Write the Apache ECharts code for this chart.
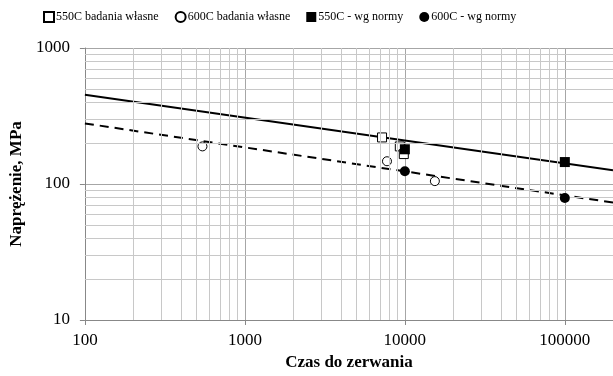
<!DOCTYPE html>
<html>
<head>
<meta charset="utf-8">
<script src="https://cdn.jsdelivr.net/npm/echarts@6/dist/echarts.min.js"></script>
<style>html,body{margin:0;padding:0;background:#fff}#c{width:613px;height:376px}</style>
</head>
<body>
<div id="c"></div>
<script>
// Data
const own550 = [[7200, 220], [9300, 189], [9850, 166]];
const own600 = [[543, 189], [7730, 147], [15400, 105]];
const norm550 = [[10000, 180], [100000, 145]];
const norm600 = [[10000, 124], [100000, 79]];
const trend550 = [[100, 454], [200000, 126]];
const trend600 = [[100, 279], [200000, 73]];
const xTicks = [100, 1000, 10000, 100000];
const yTicks = [10, 100, 1000];

const xMinor = [];
for (const d of [100, 1000, 10000]) for (let k = 2; k <= 9; k++) xMinor.push(d * k);
const yMinor = [];
for (const d of [10, 100]) for (let k = 2; k <= 9; k++) yMinor.push(d * k);

const FONT = '"Liberation Serif", "Times New Roman", serif';
const chart = echarts.init(document.getElementById('c'));
chart.setOption({
  animation: false,
  backgroundColor: '#fff',
  textStyle: { fontFamily: FONT, color: '#000' },
  grid: { left: 83, right: 0, top: 48, bottom: 54 },
  legend: {
    left: 38, top: 6,
    itemWidth: 10, itemHeight: 10, itemGap: 16,
    textStyle: { fontFamily: FONT, fontSize: 12, color: '#000', padding: [0, 0, 0, -3] },
    data: ['550C badania własne', '600C badania własne', '550C - wg normy', '600C - wg normy']
  },
  xAxis: {
    type: 'log', logBase: 10, min: 100, max: 200000,
    name: 'Czas do zerwania', nameLocation: 'middle', nameGap: 34,
    nameTextStyle: { fontFamily: FONT, fontSize: 17, fontWeight: 'bold', color: '#000' },
    axisLine: { show: true, lineStyle: { color: '#888', width: 1 } },
    axisTick: { show: true, inside: false, length: 5, lineStyle: { color: '#888' } },
    axisLabel: {
      fontFamily: FONT, fontSize: 17, color: '#000', margin: 12,
      showMaxLabel: false,
      formatter: v => xTicks.includes(Math.round(v)) ? String(Math.round(v)) : ''
    },
    splitLine: { show: true, lineStyle: { color: '#a6a6a6', width: 1 } }
  },
  yAxis: {
    type: 'log', logBase: 10, min: 10, max: 1000,
    name: 'Naprężenie, MPa', nameLocation: 'middle', nameGap: 50,
    nameTextStyle: { fontFamily: FONT, fontSize: 17, fontWeight: 'bold', color: '#000' },
    axisLine: { show: true, lineStyle: { color: '#888', width: 1 } },
    axisTick: { show: true, length: 5, lineStyle: { color: '#888' } },
    axisLabel: {
      fontFamily: FONT, fontSize: 17, color: '#000', margin: 15,
      formatter: v => yTicks.includes(Math.round(v)) ? String(Math.round(v)) : ''
    },
    splitLine: { show: true, lineStyle: { color: '#a6a6a6', width: 1 } }
  },
  series: [
    {
      type: 'line', data: [], z: 1, silent: true,
      markLine: {
        silent: true, symbol: ['none', 'none'], label: { show: false },
        lineStyle: { color: '#c8c8c8', type: 'solid', width: 1 },
        data: xMinor.map(v => ({ xAxis: v })).concat(yMinor.map(v => ({ yAxis: v })))
      }
    },
    {
      name: 'trend550', type: 'line', data: trend550, showSymbol: false, z: 3,
      lineStyle: { color: '#000', width: 2 }, silent: true
    },
    {
      name: 'trend600', type: 'line', data: trend600, showSymbol: false, z: 3,
      lineStyle: { color: '#000', width: 2, type: [9, 6] }, silent: true
    },
    {
      name: '550C badania własne', type: 'scatter', data: own550, symbol: 'rect', symbolSize: 9, z: 4,
      itemStyle: { color: '#fff', borderColor: '#000', borderWidth: 1, opacity: 1 }
    },
    {
      name: '600C badania własne', type: 'scatter', data: own600, symbol: 'circle', symbolSize: 9, z: 4,
      itemStyle: { color: '#fff', borderColor: '#000', borderWidth: 1, opacity: 1 }
    },
    {
      name: '550C - wg normy', type: 'scatter', data: norm550, symbol: 'rect', symbolSize: 10, z: 5,
      itemStyle: { color: '#000', opacity: 1 }
    },
    {
      name: '600C - wg normy', type: 'scatter', data: norm600, symbol: 'circle', symbolSize: 10, z: 5,
      itemStyle: { color: '#000', opacity: 1 }
    }
  ]
});
</script>
</body>
</html>
